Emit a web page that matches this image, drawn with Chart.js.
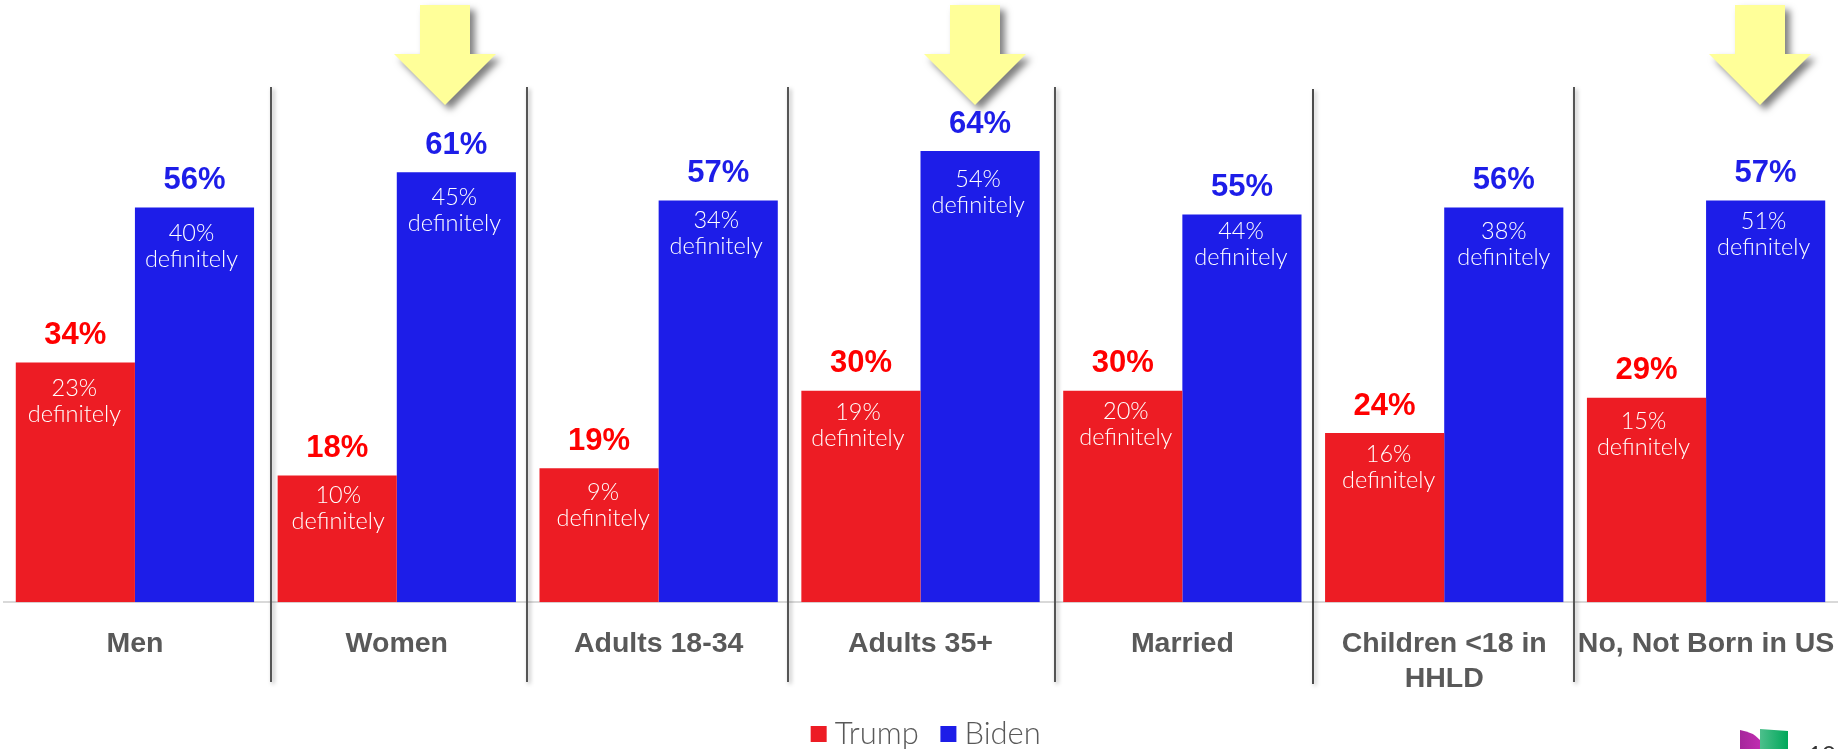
<!DOCTYPE html>
<html><head><meta charset="utf-8">
<style>html,body{margin:0;padding:0;background:#fff;overflow:hidden}#wrap{position:absolute;left:0;top:0;width:1845px;height:749px}</style>
<script src="https://cdn.jsdelivr.net/npm/chart.js@4"></script>
</head><body><div id="wrap"><canvas id="c"></canvas></div>
<script>
const categories = ["Men","Women","Adults 18-34","Adults 35+","Married",["Children <18 in","HHLD"],"No, Not Born in US"];
const trump = [34,18,19,30,30,24,29];
const biden = [56,61,57,64,55,56,57];
const trumpDefinitely = [23,10,9,19,20,16,15];
const bidenDefinitely = [40,45,34,54,44,38,51];

const RED="#ED1C24", BLUE="#1D1DE8", GREY="#595959";

const decor = {
  id:"decor",
  beforeLayout(chart){
    // wide gap between the legend items without a tall legend box
    const lg=chart.legend;
    if(!lg._fitPatched){
      const f=lg.fit;
      lg.fit=function(){f.call(this);this.height=58.5;};
      lg._fitPatched=true;
    }
  },
  afterLayout(chart){
    const lg=chart.legend;
    lg.top-=1; lg.left+=9; lg.right+=9; lg.bottom=749;
  },
  afterDatasetsDraw(chart){
    const dividerX = [271,527,788,1055,1313,1574];
    const arrowTipX = [445,975,1760];
    const subNudgeX = [[-1,1,4,-3,3,4,-3],[-3,-2,-2,-2,-1,0,-2]];
    const subNudgeY = [[0,-6,-2,-4,-5,-5,-2],[0,-1,-6,2,-9,-2,-5]];
    const ctx=chart.ctx;
    ctx.save();
    dividerX.forEach((x,i)=>{
      ctx.save();
      ctx.shadowColor="rgba(0,0,0,.35)";ctx.shadowBlur=4;ctx.shadowOffsetX=2;ctx.shadowOffsetY=2;
      ctx.strokeStyle=i===4?"#222":"#555";ctx.lineWidth=i===4?1.6:2;
      ctx.beginPath();ctx.moveTo(x,i===4?89:87);ctx.lineTo(x,i===4?684:682);ctx.stroke();
      ctx.restore();
    });
    arrowTipX.forEach(x=>{
      ctx.save();
      ctx.shadowColor="rgba(0,0,0,.5)";ctx.shadowBlur=7;ctx.shadowOffsetX=5;ctx.shadowOffsetY=5;
      ctx.fillStyle="#FFFF99";
      ctx.beginPath();
      ctx.moveTo(x-25,5);ctx.lineTo(x+25,5);ctx.lineTo(x+25,54);ctx.lineTo(x+51,54);
      ctx.lineTo(x,105);ctx.lineTo(x-51,54);ctx.lineTo(x-25,54);ctx.closePath();ctx.fill();
      ctx.restore();
    });
    ctx.textAlign="center";ctx.textBaseline="middle";
    chart.data.datasets.forEach((ds,di)=>{
      const sub=di===0?trumpDefinitely:bidenDefinitely;
      chart.getDatasetMeta(di).data.forEach((bar,i)=>{
        ctx.fillStyle=di===0?"#FF0000":BLUE;
        ctx.font="bold 31px 'Liberation Sans'";
        ctx.fillText(ds.data[i]+"%",bar.x,bar.y-27);
        ctx.fillStyle="#fff";
        ctx.font="300 23.5px Lato";
        const sx=bar.x+subNudgeX[di][i], sy=bar.y+26+subNudgeY[di][i];
        ctx.fillText(sub[i]+"%",sx,sy);
        ctx.fillText("definitely",sx,sy+26);
      });
    });
    let g=ctx.createLinearGradient(1740,0,1760,0);g.addColorStop(0,"#A5279B");g.addColorStop(1,"#C02CB0");
    ctx.fillStyle=g;ctx.beginPath();ctx.moveTo(1740,749);ctx.lineTo(1740,730);ctx.quadraticCurveTo(1753,732,1760,740);ctx.lineTo(1760,749);ctx.closePath();ctx.fill();
    g=ctx.createLinearGradient(1760,0,1788,0);g.addColorStop(0,"#4DBF8C");g.addColorStop(1,"#00A85A");
    ctx.fillStyle=g;ctx.beginPath();ctx.moveTo(1760,749);ctx.lineTo(1760,729);ctx.lineTo(1788,731);ctx.lineTo(1788,749);ctx.closePath();ctx.fill();
    ctx.fillStyle="#333";ctx.font="24px Lato";ctx.textAlign="left";ctx.textBaseline="alphabetic";
    ctx.fillText("10",1808,763);
    ctx.restore();
  }
};

new Chart(document.getElementById("c"),{
  type:"bar",
  data:{labels:categories,datasets:[
    {label:"Trump",data:trump,backgroundColor:RED,barPercentage:1,categoryPercentage:0.91},
    {label:"Biden",data:biden,backgroundColor:BLUE,barPercentage:1,categoryPercentage:0.91}
  ]},
  options:{
    responsive:true,maintainAspectRatio:false,animation:false,devicePixelRatio:1,
    layout:{padding:{left:4,right:8,top:3,bottom:0}},
    plugins:{
      tooltip:{enabled:false},
      legend:{display:true,position:"bottom",labels:{boxWidth:1,boxHeight:1,padding:29,color:GREY,font:{family:"Lato",weight:"300",size:31},
        generateLabels(c){return c.data.datasets.map((d,i)=>({text:d.label,fillStyle:d.backgroundColor,strokeStyle:d.backgroundColor,lineWidth:15,datasetIndex:i,fontColor:GREY}));}}}
    },
    scales:{
      x:{grid:{display:false},border:{color:"#D9D9D9",width:2},
         afterFit(s){s.height=88.2;s.paddingLeft=0;s.paddingRight=0;},
         ticks:{color:GREY,autoSkip:false,maxRotation:0,minRotation:0,padding:16,font:{family:"'Liberation Sans'",weight:"bold",size:28.5,lineHeight:1.24}}},
      y:{display:false,min:0,max:85}
    }
  },
  plugins:[decor]
});
</script></body></html>
